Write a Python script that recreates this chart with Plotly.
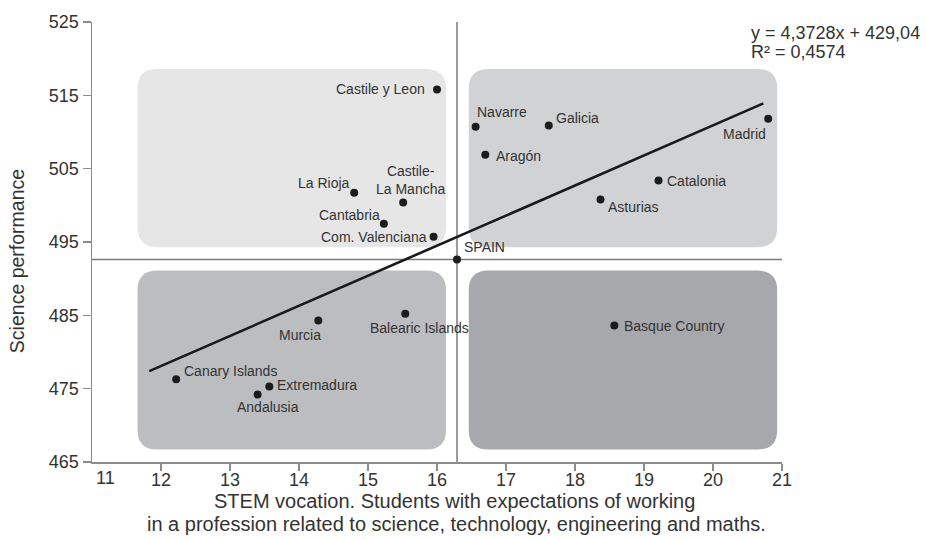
import plotly.graph_objects as go

# ---------------- data ----------------
regions = ["Castile y Leon", "Navarre", "Galicia", "Aragón", "Madrid", "Catalonia",
           "Asturias", "La Rioja", "Castile-<br>La Mancha", "Cantabria", "Com. Valenciana",
           "Murcia", "Balearic Islands", "Canary Islands", "Extremadura", "Andalusia",
           "Basque Country"]
stem_vocation = [16.00, 16.56, 17.62, 16.70, 20.80, 19.21,
                 18.37, 14.80, 15.51, 15.23, 15.95,
                 14.28, 15.54, 12.22, 13.57, 13.40,
                 18.57]
science_score = [515.8, 510.7, 510.9, 506.9, 511.8, 503.4,
                 500.8, 501.7, 500.4, 497.5, 495.7,
                 484.3, 485.2, 476.3, 475.3, 474.2,
                 483.6]
spain_label = "SPAIN"
spain_x = 16.29
spain_y = 492.6
trend_x = [11.83, 20.73]
trend_y = [477.4, 513.9]
equation_lines = ["y = 4,3728x + 429,04", "R² = 0,4574"]
x_ticks = [12, 13, 14, 15, 16, 17, 18, 19, 20, 21]
y_ticks = [465, 475, 485, 495, 505, 515, 525]
x_title_lines = ["STEM vocation. Students with expectations of working",
                 "in a profession related to science, technology, engineering and maths."]
y_title = "Science performance"

# ---------------- style / layout ----------------
FONT = "Liberation Sans, Arial, sans-serif"
TXT = "#333333"
AXC = "#8c8c8c"
X_RANGE = [11, 21]
Y_RANGE = [465, 525]

# label placement: (xanchor, xshift px, yshift px)
label_pos = [("right", -11, 0), ("left", 0, 15), ("left", 6, 7), ("left", 10, -1),
             ("right", -1, -15), ("left", 8, -1), ("left", 6, -8), ("right", -3, 10),
             ("center", 7, 22), ("right", -3, 9), ("right", -6, 0),
             ("right", 4, -15), ("center", 14, -14), ("left", 7, 8), ("left", 7, 1),
             ("center", 10, -12), ("left", 9, 0)]

# quadrant boxes (x0, x1, y0, y1, colour)
boxes = [(11.66, 16.13, 494.3, 518.6, "#e6e6e7"),
         (16.46, 20.93, 494.3, 518.6, "#d1d2d4"),
         (11.66, 16.13, 466.7, 491.1, "#bcbdc0"),
         (16.46, 20.93, 466.7, 491.1, "#a7a8ab")]
RX, RY = 0.29, 2.68


def rounded(x0, x1, y0, y1):
    return (f"M {x0+RX},{y0} L {x1-RX},{y0} Q {x1},{y0} {x1},{y0+RY} "
            f"L {x1},{y1-RY} Q {x1},{y1} {x1-RX},{y1} L {x0+RX},{y1} "
            f"Q {x0},{y1} {x0},{y1-RY} L {x0},{y0+RY} Q {x0},{y0} {x0+RX},{y0} Z")


shapes = []
for x0, x1, y0, y1, c in boxes:
    shapes.append(dict(type="path", path=rounded(x0, x1, y0, y1), xref="x", yref="y",
                       fillcolor=c, line=dict(width=0), layer="below"))
# crosshair through SPAIN
shapes.append(dict(type="line", xref="x", yref="y", x0=spain_x, x1=spain_x,
                   y0=Y_RANGE[0], y1=Y_RANGE[1], line=dict(color="#7a7a7a", width=1.5),
                   layer="below"))
shapes.append(dict(type="line", xref="x", yref="y", x0=X_RANGE[0], x1=X_RANGE[1],
                   y0=spain_y, y1=spain_y, line=dict(color="#7a7a7a", width=1.5),
                   layer="below"))

fig = go.Figure()
fig.add_trace(go.Scatter(x=trend_x, y=trend_y, mode="lines",
                         line=dict(color="#1a1a1a", width=2.6), hoverinfo="skip"))
fig.add_trace(go.Scatter(x=stem_vocation + [spain_x], y=science_score + [spain_y],
                         mode="markers", marker=dict(color="#1c1c1c", size=8),
                         hoverinfo="skip"))

annotations = []
for name, x, y, (xa, xs, ys) in zip(regions, stem_vocation, science_score, label_pos):
    annotations.append(dict(x=x, y=y, xref="x", yref="y", text=name, showarrow=False,
                            xanchor=xa, yanchor="middle", xshift=xs, yshift=ys,
                            align="center", borderpad=0,
                            font=dict(family=FONT, size=14, color=TXT)))
annotations.append(dict(x=spain_x, y=spain_y, xref="x", yref="y", text=spain_label,
                        showarrow=False, xanchor="left", yanchor="middle", xshift=6,
                        yshift=13, borderpad=0, font=dict(family=FONT, size=14, color=TXT)))
# equation
for line, py in zip(equation_lines, [25, 45]):
    annotations.append(dict(x=(750 - 92) / 690, y=(462 - py) / 448, xref="paper",
                            yref="paper", text=line, showarrow=False, xanchor="left",
                            yanchor="middle", borderpad=0,
                            font=dict(family=FONT, size=18, color=TXT)))
# x title lines
for line, px, py in zip(x_title_lines, [454, 456.5], [501.7, 525]):
    annotations.append(dict(x=(px - 92) / 690, y=(462 - py) / 448, xref="paper",
                            yref="paper", text=line, showarrow=False, xanchor="center",
                            yanchor="middle", borderpad=0,
                            font=dict(family=FONT, size=20, color=TXT)))
# y title
annotations.append(dict(x=(17 - 92) / 690, y=(462 - 257.5) / 448, xref="paper",
                        yref="paper", text=y_title, showarrow=False, textangle=-90,
                        xanchor="center", yanchor="middle", borderpad=0,
                        font=dict(family=FONT, size=19.5, color=TXT)))
# first x tick label (offset from axis corner, no tick mark)
annotations.append(dict(x=11, y=(462 - 478) / 448, xref="x", yref="paper", text="11",
                        showarrow=False, xanchor="center", yanchor="middle", xshift=13,
                        borderpad=0, font=dict(family=FONT, size=18, color=TXT)))

fig.update_layout(
    width=926, height=540,
    margin=dict(l=92, r=144, t=14, b=78),
    paper_bgcolor="white", plot_bgcolor="white",
    showlegend=False,
    shapes=shapes, annotations=annotations,
    font=dict(family=FONT, color=TXT),
)
fig.update_xaxes(range=X_RANGE, tickvals=x_ticks, ticktext=[str(t) for t in x_ticks],
                 showgrid=False, zeroline=False, showline=True, linecolor=AXC,
                 linewidth=1.5, ticks="outside", ticklen=7, tickcolor=AXC, tickwidth=1.5,
                 ticklabelstandoff=-6,
                 tickfont=dict(family=FONT, size=18, color=TXT))
fig.update_yaxes(range=Y_RANGE, tickvals=y_ticks, ticktext=[str(t) for t in y_ticks],
                 showgrid=False, zeroline=False, showline=True, linecolor=AXC,
                 linewidth=1.5, ticks="outside", ticklen=8, tickcolor=AXC, tickwidth=1.5,
                 tickfont=dict(family=FONT, size=18, color=TXT))

fig.write_html("out.html",
               config={"displayModeBar": False, "staticPlot": True},
               post_script="document.body.style.margin='0px';"
                           "document.body.style.overflow='hidden';")
